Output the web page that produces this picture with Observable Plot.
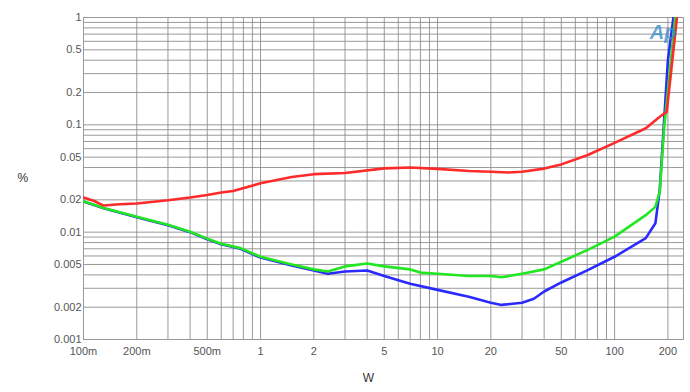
<!DOCTYPE html>
<html>
<head>
<meta charset="utf-8">
<script src="https://cdn.jsdelivr.net/npm/d3@7"></script>
<script src="https://cdn.jsdelivr.net/npm/@observablehq/plot@0.6"></script>
<style>
  html, body { margin: 0; padding: 0; background: #fff; }
  #chart svg { display: block; }
</style>
</head>
<body>
<div id="chart"></div>
<script>
// Power (W)
const redW   = [0.1, 0.115, 0.13, 0.16, 0.2, 0.3, 0.4, 0.5, 0.6, 0.7, 1, 1.5, 2, 3, 5, 7, 10, 15, 20, 25, 30, 40, 50, 70, 100, 150, 180, 197, 225];
const redV   = [0.021, 0.0195, 0.0177, 0.0182, 0.0185, 0.0198, 0.021, 0.0222, 0.0234, 0.0242, 0.0285, 0.0326, 0.0347, 0.0356, 0.0393, 0.040, 0.0389, 0.0372, 0.0365, 0.036, 0.0365, 0.0391, 0.0428, 0.0521, 0.068, 0.093, 0.119, 0.132, 1.0];

const greenW = [0.1, 0.13, 0.2, 0.3, 0.4, 0.5, 0.6, 0.77, 1, 1.5, 2, 2.4, 3, 4, 5, 7, 8, 10, 15, 20, 23, 30, 40, 50, 70, 100, 150, 170, 180, 190, 220];
const greenV = [0.0194, 0.0168, 0.0139, 0.0117, 0.0101, 0.0087, 0.0078, 0.0071, 0.0059, 0.0050, 0.0045, 0.0043, 0.0048, 0.0051, 0.0048, 0.0045, 0.0042, 0.0041, 0.0039, 0.0039, 0.0038, 0.0041, 0.0045, 0.0053, 0.0068, 0.0091, 0.0144, 0.0172, 0.024, 0.09, 1.0];

const blueW  = [0.1, 0.13, 0.2, 0.3, 0.4, 0.5, 0.6, 0.77, 1, 1.5, 2, 2.4, 3, 4, 5, 7, 10, 15, 20, 23, 30, 35, 40, 50, 70, 100, 150, 170, 180, 200, 215];
const blueV  = [0.0193, 0.0167, 0.0138, 0.0116, 0.0100, 0.0086, 0.0077, 0.0070, 0.0058, 0.0049, 0.0044, 0.0041, 0.0043, 0.0044, 0.0039, 0.0033, 0.0029, 0.0025, 0.0022, 0.0021, 0.0022, 0.0024, 0.0028, 0.0034, 0.0044, 0.0059, 0.0088, 0.0121, 0.025, 0.4, 1.0];

const xTickValues = [0.1, 0.2, 0.5, 1, 2, 5, 10, 20, 50, 100, 200];
const xTickLabels = ["100m", "200m", "500m", "1", "2", "5", "10", "20", "50", "100", "200"];
const yTickValues = [1, 0.5, 0.2, 0.1, 0.05, 0.02, 0.01, 0.005, 0.002, 0.001];
const yTickLabels = ["1", "0.5", "0.2", "0.1", "0.05", "0.02", "0.01", "0.005", "0.002", "0.001"];

const xDomain = [0.1, 245];
const yDomain = [0.001, 1];

// grid positions: 1..9 within each decade
const xGrid = [];
for (const d of [0.1, 1, 10, 100]) for (let k = 1; k <= 9; k++) { const v = +(d * k).toPrecision(3); if (v >= xDomain[0] && v <= xDomain[1]) xGrid.push(v); }
const yGrid = [];
for (const d of [0.001, 0.01, 0.1]) for (let k = 1; k <= 9; k++) yGrid.push(+(d * k).toPrecision(3));
yGrid.push(1);

const toRows = (W, V, s) => W.map((w, i) => ({w, v: V[i], s}));
const rows = [
  ...toRows(blueW, blueV, "blue"),
  ...toRows(greenW, greenV, "green"),
  ...toRows(redW, redV, "red")
];

const xTicks = xTickValues.map((v, i) => ({v, t: xTickLabels[i]}));
const yTicks = yTickValues.map((v, i) => ({v, t: yTickLabels[i]}));

const chart = Plot.plot({
  width: 690,
  height: 392,
  marginLeft: 83,
  marginRight: 7,
  marginTop: 17,
  marginBottom: 53,
  style: {fontFamily: "'Liberation Sans', Arial, sans-serif", fontSize: "11px", color: "#555", background: "#fff"},
  x: {type: "log", domain: xDomain, label: null, axis: null},
  y: {type: "log", domain: yDomain, label: null, axis: null},
  color: {type: "identity"},
  marks: [
    Plot.ruleX(xGrid, {x: d => d, stroke: "#888", strokeOpacity: 0.85, strokeWidth: 1}),
    Plot.ruleY(yGrid, {y: d => d, stroke: "#888", strokeOpacity: 0.85, strokeWidth: 1}),
    Plot.frame({stroke: "#999"}),
    Plot.text(xTicks, {x: "v", text: "t", frameAnchor: "bottom", dy: 15, fill: "#555", fontSize: 11}),
    Plot.text(yTicks, {y: "v", text: "t", frameAnchor: "left", dx: -2, textAnchor: "end", fill: "#555", fontSize: 11}),
    Plot.line(rows, {x: "w", y: "v", z: "s", stroke: d => ({red: "#ff2a2a", green: "#22e622", blue: "#2a2aff"})[d.s], strokeWidth: 2.6, clip: true, curve: "linear"}),
    Plot.text(["Ap"], {frameAnchor: "top-right", dx: -7, dy: 7, fontSize: 20, fontStyle: "italic", fontWeight: "bold", fill: "#3b8fc4", fillOpacity: 0.8}),
    Plot.text(["%"], {frameAnchor: "left", dx: -66, fontSize: 12, fill: "#333"}),
    Plot.text(["W"], {frameAnchor: "bottom", dx: -15, dy: 42, fontSize: 12, fill: "#333"})
  ]
});
document.getElementById("chart").appendChild(chart);
</script>
</body>
</html>
